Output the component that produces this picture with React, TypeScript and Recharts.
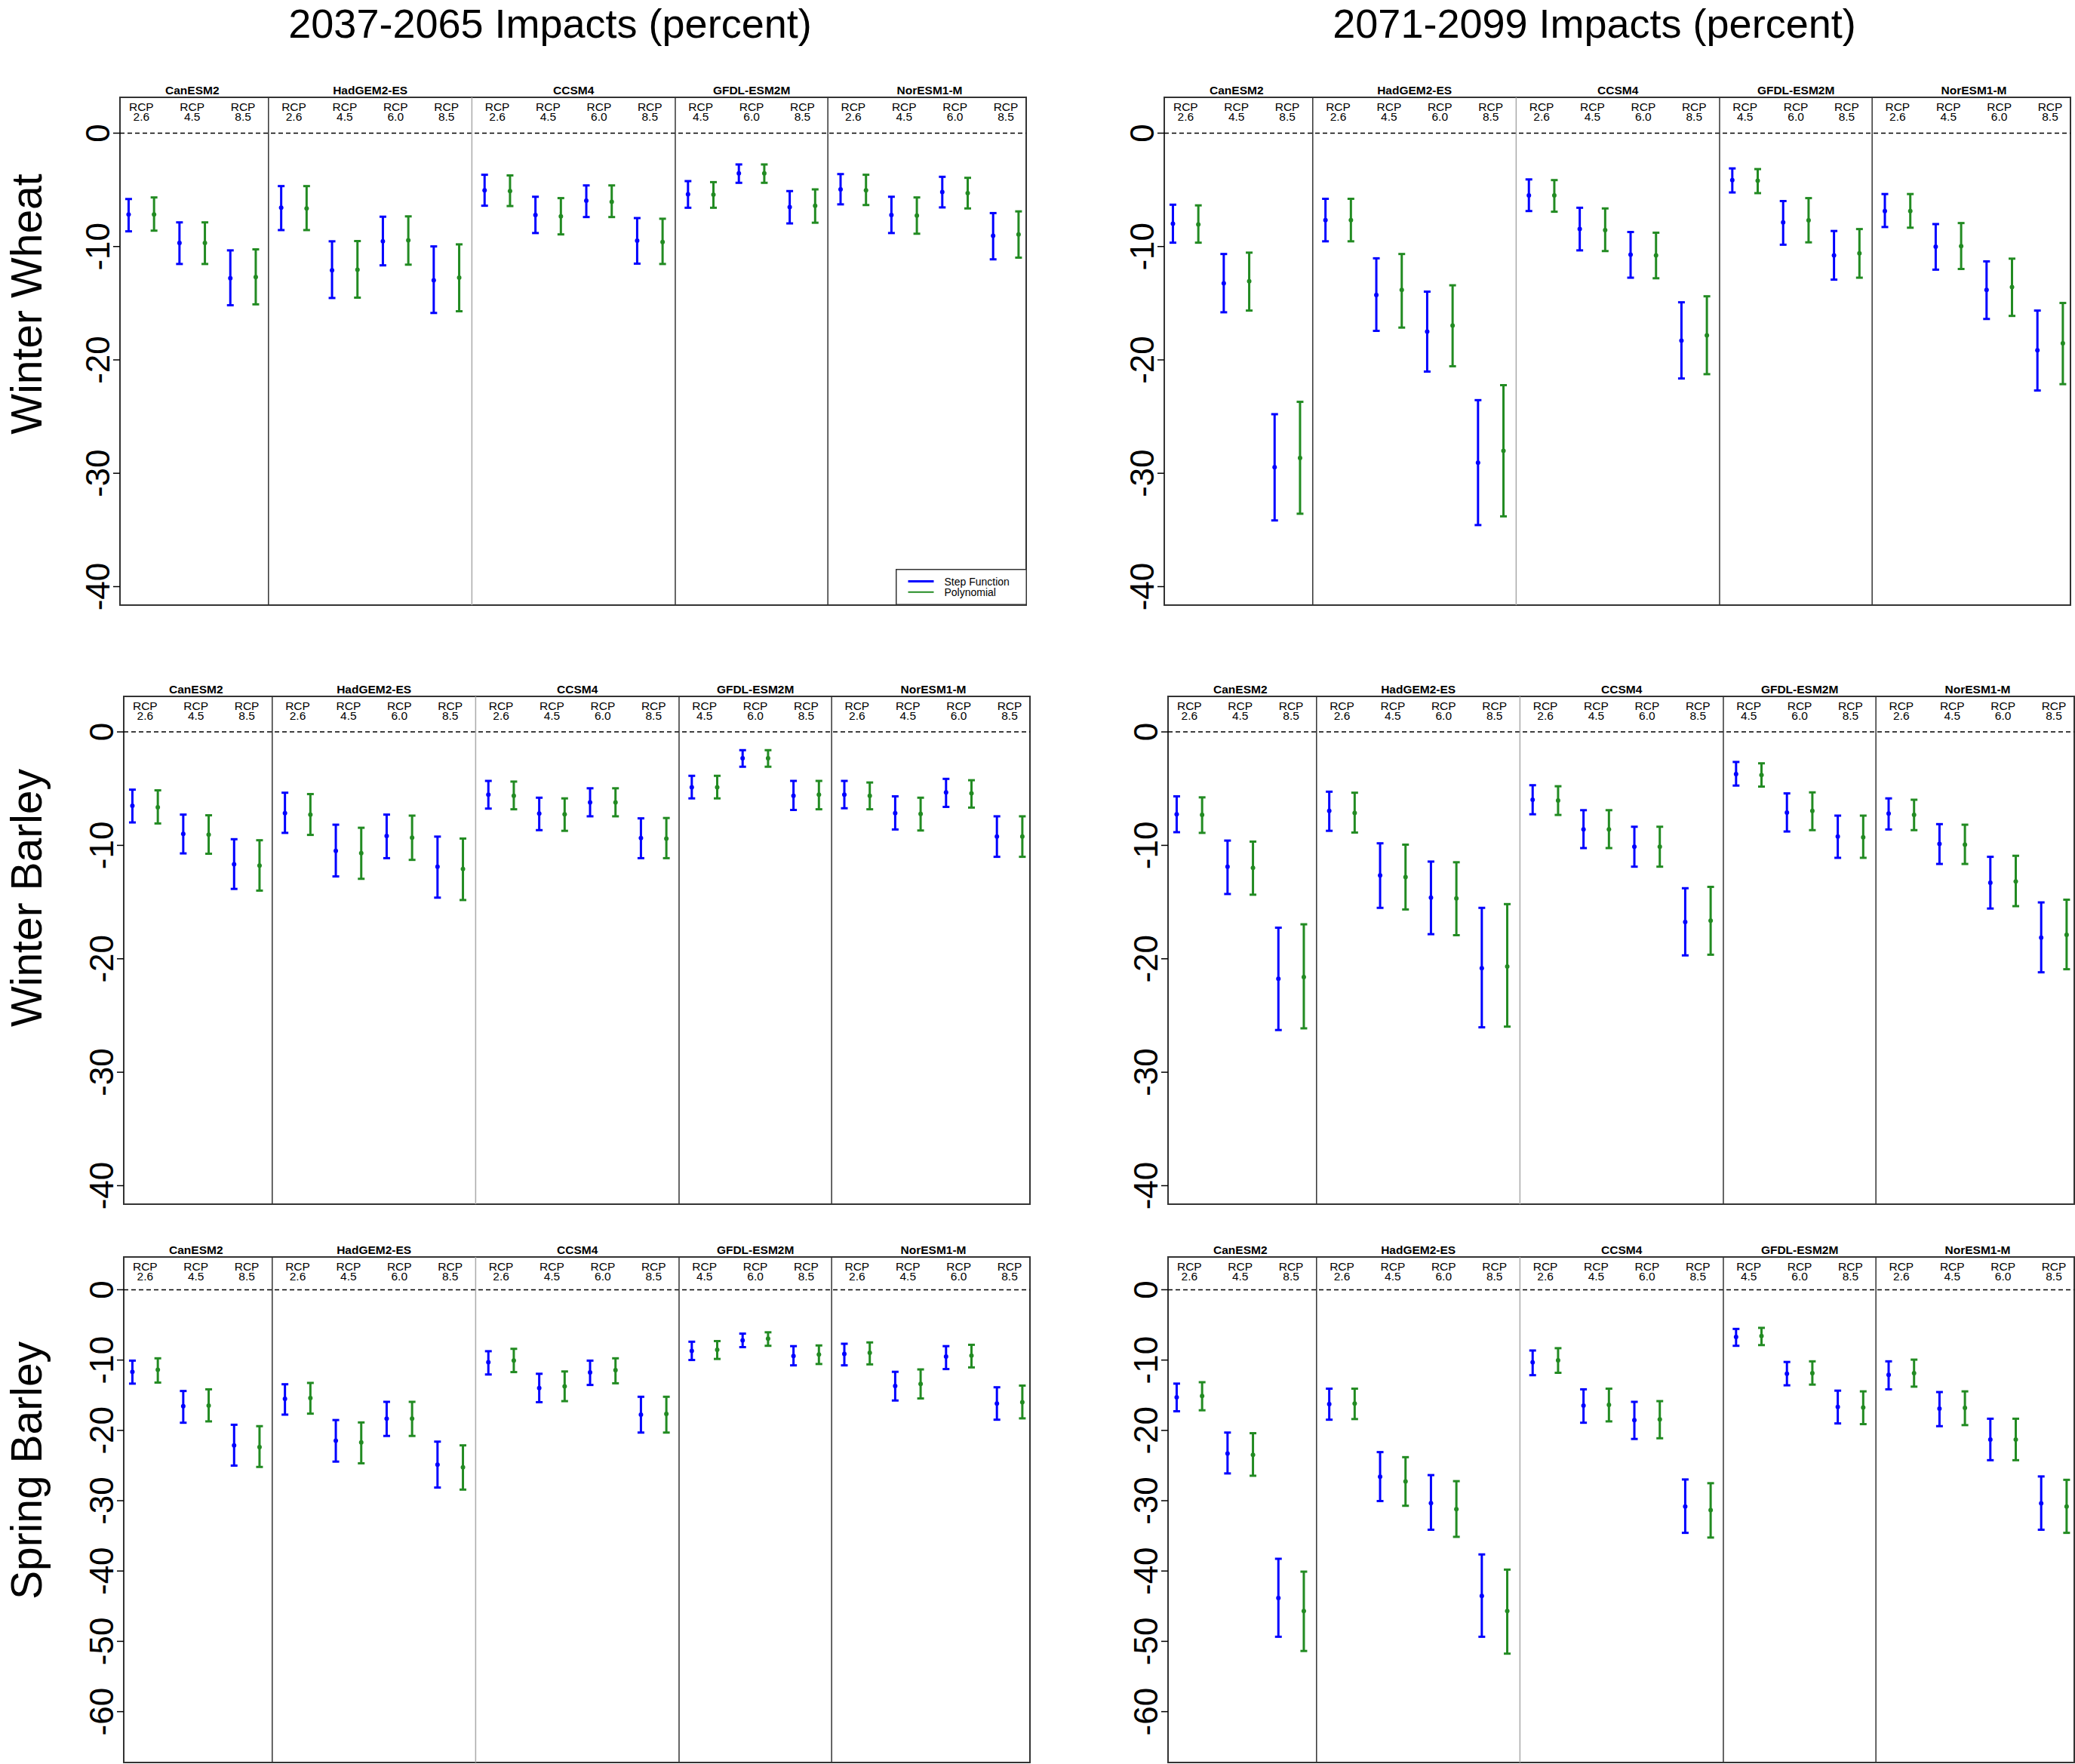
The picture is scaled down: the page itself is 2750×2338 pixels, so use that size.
import React from "react";
import { ComposedChart, Scatter, ErrorBar, XAxis, YAxis, ReferenceLine, ReferenceArea, Legend } from "recharts";

const FONT = "'Liberation Sans', Arial, Helvetica, sans-serif";

const models = ["CanESM2", "HadGEM2-ES", "CCSM4", "GFDL-ESM2M", "NorESM1-M"];
const rcps = [
  ["2.6", "4.5", "8.5"],
  ["2.6", "4.5", "6.0", "8.5"],
  ["2.6", "4.5", "6.0", "8.5"],
  ["4.5", "6.0", "8.5"],
  ["2.6", "4.5", "6.0", "8.5"],
];
const periods = ["2037-2065 Impacts (percent)", "2071-2099 Impacts (percent)"];
const crops = ["Winter Wheat", "Winter Barley", "Spring Barley"];
const seriesNames = ["Step Function", "Polynomial"];
const ticksShort = [0, -10, -20, -30, -40];
const ticksLong = [0, -10, -20, -30, -40, -50, -60];

// each row is [low, mean, high], one per model/RCP slot in the order above
const wheatMidStep = [
  [-8.66, -7.17, -5.81], [-11.54, -9.69, -7.87], [-15.18, -12.8, -10.34],
  [-8.55, -6.58, -4.67], [-14.54, -12.1, -9.54], [-11.66, -9.54, -7.37], [-15.86, -12.98, -9.99],
  [-6.4, -5.05, -3.67], [-8.81, -7.22, -5.61], [-7.4, -5.96, -4.61], [-11.51, -9.49, -7.49],
  [-6.58, -5.4, -4.23], [-4.38, -3.55, -2.76], [-7.96, -6.52, -5.11],
  [-6.28, -4.96, -3.61], [-8.81, -7.22, -5.61], [-6.55, -5.2, -3.85], [-11.13, -9.05, -7.05],
];
const wheatMidPoly = [
  [-8.6, -7.17, -5.67], [-11.54, -9.69, -7.87], [-15.1, -12.69, -10.25],
  [-8.55, -6.64, -4.67], [-14.51, -12.04, -9.52], [-11.6, -9.46, -7.34], [-15.71, -12.75, -9.81],
  [-6.43, -5.11, -3.73], [-8.93, -7.34, -5.73], [-7.4, -6.05, -4.61], [-11.54, -9.6, -7.55],
  [-6.58, -5.43, -4.32], [-4.38, -3.55, -2.76], [-7.9, -6.4, -4.96],
  [-6.34, -5.05, -3.67], [-8.87, -7.28, -5.67], [-6.64, -5.29, -3.94], [-10.98, -8.93, -6.9],
];
const wheatLateStep = [
  [-9.66, -7.99, -6.31], [-15.8, -13.25, -10.66], [-34.16, -29.46, -24.79],
  [-9.54, -7.67, -5.79], [-17.44, -14.27, -11.04], [-21.03, -17.5, -13.98], [-34.57, -29.07, -23.55],
  [-6.87, -5.49, -4.08], [-10.34, -8.46, -6.58], [-12.75, -10.72, -8.72], [-21.64, -18.3, -14.92],
  [-5.23, -4.14, -3.11], [-9.84, -7.87, -5.99], [-12.92, -10.78, -8.63],
  [-8.28, -6.87, -5.37], [-12.04, -10.01, -8.02], [-16.39, -13.83, -11.31], [-22.7, -19.15, -15.65],
];
const wheatLatePoly = [
  [-9.66, -8.05, -6.37], [-15.65, -13.07, -10.54], [-33.57, -28.66, -23.7],
  [-9.54, -7.67, -5.79], [-17.15, -13.83, -10.66], [-20.56, -16.98, -13.42], [-33.8, -28.02, -22.23],
  [-6.93, -5.49, -4.14], [-10.4, -8.55, -6.64], [-12.8, -10.78, -8.78], [-21.26, -17.83, -14.39],
  [-5.29, -4.2, -3.17], [-9.63, -7.69, -5.73], [-12.75, -10.6, -8.46],
  [-8.34, -6.87, -5.37], [-11.98, -9.96, -7.93], [-16.12, -13.57, -11.07], [-22.14, -18.53, -14.98],
];
const barleyMidStep = [
  [-7.98, -6.52, -5.09], [-10.71, -8.99, -7.29], [-13.84, -11.67, -9.46],
  [-8.9, -7.17, -5.36], [-12.74, -10.48, -8.18], [-11.13, -9.17, -7.29], [-14.61, -11.88, -9.23],
  [-6.76, -5.54, -4.32], [-8.66, -7.2, -5.8], [-7.44, -6.22, -4.97], [-11.13, -9.35, -7.62],
  [-5.86, -4.88, -3.87], [-3.07, -2.32, -1.61], [-6.88, -5.63, -4.32],
  [-6.73, -5.54, -4.32], [-8.6, -7.17, -5.68], [-6.61, -5.33, -4.14], [-11.01, -9.23, -7.44],
];
const barleyMidPoly = [
  [-8.07, -6.64, -5.15], [-10.74, -9.05, -7.35], [-13.99, -11.79, -9.55],
  [-9.08, -7.29, -5.48], [-12.95, -10.68, -8.45], [-11.28, -9.32, -7.38], [-14.82, -12.08, -9.4],
  [-6.82, -5.63, -4.38], [-8.72, -7.26, -5.86], [-7.44, -6.22, -4.97], [-11.13, -9.4, -7.59],
  [-5.86, -4.88, -3.87], [-3.07, -2.32, -1.61], [-6.82, -5.54, -4.32],
  [-6.82, -5.63, -4.46], [-8.69, -7.23, -5.8], [-6.67, -5.42, -4.26], [-11.01, -9.23, -7.44],
];
const barleyLateStep = [
  [-8.84, -7.26, -5.68], [-14.29, -11.88, -9.58], [-26.28, -21.76, -17.26],
  [-8.72, -6.96, -5.27], [-15.51, -12.65, -9.82], [-17.83, -14.61, -11.43], [-26.04, -20.83, -15.51],
  [-7.26, -5.98, -4.7], [-10.24, -8.6, -6.9], [-11.88, -10.12, -8.36], [-19.7, -16.76, -13.78],
  [-4.73, -3.72, -2.65], [-8.78, -7.11, -5.42], [-11.1, -9.23, -7.38],
  [-8.6, -7.2, -5.86], [-11.64, -9.88, -8.13], [-15.57, -13.3, -11.01], [-21.19, -18.13, -15.03],
];
const barleyLatePoly = [
  [-8.9, -7.32, -5.77], [-14.35, -11.99, -9.67], [-26.13, -21.61, -16.96],
  [-8.87, -7.14, -5.36], [-15.65, -12.8, -9.94], [-17.92, -14.67, -11.49], [-25.98, -20.68, -15.18],
  [-7.32, -6.04, -4.79], [-10.24, -8.6, -6.9], [-11.88, -10.12, -8.36], [-19.64, -16.64, -13.66],
  [-4.82, -3.81, -2.77], [-8.66, -6.96, -5.33], [-11.1, -9.29, -7.38],
  [-8.66, -7.32, -5.98], [-11.64, -9.94, -8.18], [-15.36, -13.18, -10.92], [-20.92, -17.89, -14.79],
];
const springMidStep = [
  [-13.35, -11.67, -10.08], [-18.91, -16.56, -14.4], [-25.01, -22.13, -19.2],
  [-17.76, -15.51, -13.44], [-24.44, -21.46, -18.53], [-20.79, -18.34, -15.94], [-28.13, -24.87, -21.6],
  [-12.05, -10.32, -8.74], [-15.99, -13.97, -11.95], [-13.54, -11.76, -10.08], [-20.31, -17.76, -15.22],
  [-9.99, -8.69, -7.39], [-8.16, -7.2, -6.24], [-10.75, -9.41, -8.02],
  [-10.75, -9.12, -7.68], [-15.75, -13.68, -11.67], [-11.28, -9.51, -8.02], [-18.48, -16.18, -13.87],
];
const springMidPoly = [
  [-13.2, -11.38, -9.75], [-18.72, -16.47, -14.16], [-25.2, -22.37, -19.4],
  [-17.62, -15.41, -13.25], [-24.68, -21.7, -18.87], [-20.79, -18.34, -15.94], [-28.42, -25.25, -22.13],
  [-11.71, -10.08, -8.4], [-15.84, -13.73, -11.62], [-13.3, -11.43, -9.75], [-20.31, -17.67, -15.22],
  [-9.84, -8.55, -7.3], [-7.97, -6.96, -6.05], [-10.56, -9.22, -7.92],
  [-10.61, -8.98, -7.49], [-15.46, -13.39, -11.33], [-11.04, -9.36, -7.83], [-18.29, -15.99, -13.63],
];
const springLateStep = [
  [-17.28, -15.31, -13.35], [-26.12, -23.28, -20.31], [-49.35, -43.83, -38.26],
  [-18.48, -16.27, -14.07], [-30.05, -26.6, -23.09], [-34.13, -30.34, -26.36], [-49.35, -43.54, -37.64],
  [-12.15, -10.32, -8.64], [-18.91, -16.47, -14.16], [-21.22, -18.53, -15.94], [-34.57, -30.82, -26.98],
  [-7.97, -6.72, -5.57], [-13.59, -11.95, -10.27], [-19.01, -16.66, -14.35],
  [-14.16, -12.1, -10.18], [-19.4, -16.9, -14.55], [-24.24, -21.31, -18.34], [-34.13, -30.38, -26.55],
];
const springLatePoly = [
  [-17.14, -15.12, -13.15], [-26.45, -23.48, -20.4], [-51.37, -45.7, -40.09],
  [-18.39, -16.18, -14.07], [-30.72, -27.27, -23.81], [-35.14, -31.2, -27.22], [-51.75, -45.7, -39.8],
  [-11.81, -10.03, -8.31], [-18.72, -16.37, -14.07], [-21.12, -18.43, -15.84], [-35.24, -31.35, -27.51],
  [-7.87, -6.58, -5.42], [-13.49, -11.86, -10.18], [-19.11, -16.75, -14.45],
  [-13.78, -11.86, -9.94], [-19.25, -16.8, -14.45], [-24.24, -21.31, -18.34], [-34.57, -30.82, -27.03],
];

// slot layout on the x scale: blue at i, green at i + 0.5
const slots = models.flatMap((m, g) => rcps[g].map((r) => ({ model: m, rcp: r })));
const rcpCenters = slots.map((_, i) => i + 0.25);
const modelCenters: number[] = [];
const dividers: number[] = [];
let cursor = 0;
rcps.forEach((list, g) => {
  const last = cursor + list.length - 1;
  modelCenters.push((cursor + last + 0.5) / 2);
  if (g < rcps.length - 1) dividers.push(last + 0.75);
  cursor += list.length;
});
// model-name ticks are nudged off the quarter grid so they can share the axis with the RCP ticks
const MODEL_NUDGE = 0.001;
const topTicks = [...rcpCenters, ...modelCenters.map((c) => c + MODEL_NUDGE)];

const X_DOMAIN: [number, number] = [-0.17, 17.65];
const LM = 70;
const TM = 26;
const RM = 2;
const BM = 14;
const BLUE = "#0000ff";
const GREEN = "#228b22";

const toPoints = (rows: number[][], offset: number) =>
  rows.map(([lo, mid, hi], i) => ({ x: i + offset, y: mid, err: [mid - lo, hi - mid] }));

const YTick = (props: any) => {
  const { x, y, payload } = props;
  return (
    <text x={x} y={y} transform={`rotate(-90 ${x} ${y})`} textAnchor="middle" fontSize={44} fontFamily={FONT} fill="#000">
      {payload.value}
    </text>
  );
};

const TopTick = (props: any) => {
  const v: number = props.payload.value;
  const isModel = Math.abs(v * 4 - Math.round(v * 4)) > 1e-6;
  if (isModel) {
    const g = modelCenters.findIndex((c) => Math.abs(c + MODEL_NUDGE - v) < 1e-6);
    return (
      <text x={props.x} y={TM - 4} textAnchor="middle" fontSize={15.5} fontWeight="bold" fontFamily={FONT} fill="#000">
        {models[g]}
      </text>
    );
  }
  const slot = slots[Math.round(v - 0.25)];
  return (
    <g fontFamily={FONT} fontSize={15.5} fill="#000">
      <text x={props.x} y={TM + 17.5} textAnchor="middle">RCP</text>
      <text x={props.x} y={TM + 31} textAnchor="middle">{slot?.rcp}</text>
    </g>
  );
};

const LegendBox = (props: any) => {
  const items = seriesNames.map((n) => (props.payload || []).find((p: any) => p.value === n)).filter(Boolean);
  const widths = [3, 2];
  return (
    <svg width={174} height={48} style={{ display: "block" }}>
      <rect x={0.75} y={0.75} width={172.5} height={46.5} fill="#fff" stroke="#333" strokeWidth={1.5} />
      {items.map((p: any, i: number) => (
        <g key={p.value}>
          <line x1={16.5} x2={50.5} y1={16.5 + i * 14.2} y2={16.5 + i * 14.2} stroke={p.color} strokeWidth={widths[i]} />
          <text x={64.5} y={21.6 + i * 14.4} fontSize={14} fontFamily={FONT} fill="#000">{p.value}</text>
        </g>
      ))}
    </svg>
  );
};

interface PanelProps {
  x: number;
  y: number;
  w: number;
  h: number;
  step: number[][];
  poly: number[][];
  yDomain: [number, number];
  yTicks: number[];
  legend?: boolean;
}

function Panel({ x, y, w, h, step, poly, yDomain, yTicks, legend }: PanelProps) {
  const width = LM + w + RM;
  const height = TM + h + BM;
  const dot = (color: string) => (p: any) => <circle cx={p.cx} cy={p.cy} r={3} fill={color} />;
  return (
    <div style={{ position: "absolute", left: x - LM, top: y - TM }}>
      <ComposedChart width={width} height={height} margin={{ top: 0, right: RM, bottom: BM, left: 0 }}>
        <XAxis
          xAxisId="rcp"
          dataKey="x"
          orientation="top"
          type="number"
          domain={X_DOMAIN}
          allowDataOverflow
          ticks={topTicks}
          interval={0}
          height={TM}
          axisLine={false}
          tickLine={false}
          tickSize={0}
          tick={TopTick}
        />
        <YAxis
          dataKey="y"
          type="number"
          domain={yDomain}
          allowDataOverflow
          ticks={yTicks}
          interval={0}
          width={LM}
          axisLine={false}
          tickSize={9}
          tickMargin={5}
          tickLine={{ stroke: "#000", strokeWidth: 1.5 }}
          tick={YTick}
        />
        <ReferenceLine xAxisId="rcp" y={0} stroke="#000" strokeWidth={1.5} strokeDasharray="6 4" />
        {dividers.map((d, i) => (
          <ReferenceLine key={d} xAxisId="rcp" x={d} stroke={i === 1 ? "#aaa" : "#333"} strokeWidth={1.5} />
        ))}
        <ReferenceArea
          xAxisId="rcp"
          x1={X_DOMAIN[0]}
          x2={X_DOMAIN[1]}
          y1={yDomain[0]}
          y2={yDomain[1]}
          fill="none"
          fillOpacity={0}
          stroke="#333"
          strokeWidth={2}
          ifOverflow="visible"
        />
        <Scatter name={seriesNames[0]} xAxisId="rcp" data={toPoints(step, 0)} fill={BLUE} shape={dot(BLUE)} isAnimationActive={false}>
          <ErrorBar dataKey="err" direction="y" width={4.5} stroke={BLUE} strokeWidth={3} isAnimationActive={false} />
        </Scatter>
        <Scatter name={seriesNames[1]} xAxisId="rcp" data={toPoints(poly, 0.5)} fill={GREEN} shape={dot(GREEN)} isAnimationActive={false}>
          <ErrorBar dataKey="err" direction="y" width={4.5} stroke={GREEN} strokeWidth={3} isAnimationActive={false} />
        </Scatter>
        {legend && (
          <Legend
            layout="vertical"
            align="center"
            verticalAlign="middle"
            content={LegendBox}
            wrapperStyle={{ left: LM + w - 173, top: TM + h - 48, width: 174, height: 48 }}
          />
        )}
      </ComposedChart>
    </div>
  );
}

export default function App() {
  const W = 1201;
  return (
    <div style={{ position: "absolute", left: 0, top: 0, width: 2750, height: 2338, background: "#fff", overflow: "hidden" }}>
      <svg width={2750} height={2338} style={{ position: "absolute", left: 0, top: 0 }}>
        <text x={729} y={50} textAnchor="middle" fontSize={54} fontFamily={FONT} fill="#000">{periods[0]}</text>
        <text x={2113} y={50} textAnchor="middle" fontSize={54} fontFamily={FONT} fill="#000">{periods[1]}</text>
        {[403, 1190, 1949].map((cy, i) => (
          <text key={crops[i]} x={55} y={cy} transform={`rotate(-90 55 ${cy})`} textAnchor="middle" fontSize={57} fontFamily={FONT} fill="#000">
            {crops[i]}
          </text>
        ))}
      </svg>
      <Panel x={159} y={129} w={W} h={673} step={wheatMidStep} poly={wheatMidPoly} yDomain={[-41.63, 3.16]} yTicks={ticksShort} legend />
      <Panel x={1543} y={129} w={W} h={673} step={wheatLateStep} poly={wheatLatePoly} yDomain={[-41.63, 3.16]} yTicks={ticksShort} />
      <Panel x={164} y={923} w={W} h={673} step={barleyMidStep} poly={barleyMidPoly} yDomain={[-41.63, 3.13]} yTicks={ticksShort} />
      <Panel x={1548} y={923} w={W} h={673} step={barleyLateStep} poly={barleyLatePoly} yDomain={[-41.63, 3.13]} yTicks={ticksShort} />
      <Panel x={164} y={1666} w={W} h={670} step={springMidStep} poly={springMidPoly} yDomain={[-67.23, 4.66]} yTicks={ticksLong} />
      <Panel x={1548} y={1666} w={W} h={670} step={springLateStep} poly={springLatePoly} yDomain={[-67.23, 4.66]} yTicks={ticksLong} />
    </div>
  );
}
